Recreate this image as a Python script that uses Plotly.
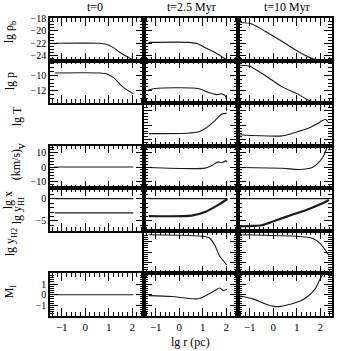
import plotly.graph_objects as go
from plotly.subplots import make_subplots

W, H = 340, 351
ML, MR, MT, MB = 50, 6, 18, 35

# ---------------- data (lg r in pc) ----------------
col_titles = ["t=0", "t=2.5 Myr", "t=10 Myr"]
x_ticks = [-1, 0, 1, 2]

# t = 0
r_t0_rho = [-1.3, 0.6, 0.9, 1.2, 1.45, 1.75, 2.05]
rho_t0 = [-22.0, -22.0, -22.15, -22.7, -23.4, -24.1, -24.7]
r_t0_p = [-1.3, 0.6, 0.9, 1.2, 1.6, 2.05]
p_t0 = [-9.7, -9.7, -9.8, -10.3, -11.5, -12.4]
r_t0_flat = [-1.3, 2.05]
v_t0 = [0.0, 0.0]
yHI_t0 = [0.0, 0.0]
x_t0 = [-3.2, -3.2]
M_t0 = [0.0, 0.0]

# t = 2.5 Myr
r_t25_rho = [-1.3, 0.38, 0.81, 1.09, 1.52, 2.02]
rho_t25 = [-21.85, -21.85, -22.1, -22.7, -23.5, -24.7]
r_t25_p = [-1.3, -1.03, 0.81, 1.23, 1.59, 1.8, 1.97, 2.02]
p_t25 = [-11.9, -11.7, -11.7, -12.2, -12.5, -12.4, -12.7, -13.4]
r_t25_T = [-1.3, 0.3, 0.81, 1.09, 1.52, 1.8, 2.02]
T_t25 = [2.42, 2.45, 2.53, 2.75, 3.31, 3.75, 3.8]
r_t25_v = [-1.3, 1.09, 1.4, 1.66, 1.8, 1.97, 2.05]
v_t25 = [-0.35, -0.8, 1.2, 3.6, 3.0, 4.3, 3.8]
r_t25_flat = [-1.3, 2.05]
yHI_t25 = [0.0, 0.0]
r_t25_x = [-1.3, 0.53, 1.09, 1.66, 2.05]
x_t25 = [-3.9, -3.8, -3.0, -1.4, -0.1]
r_t25_H2 = [-1.3, 1.09, 1.3, 1.52, 1.72, 2.02]
H2_t25 = [-2.37, -2.53, -2.7, -3.37, -4.37, -5.2]
r_t25_M = [-1.3, -0.33, 0.81, 1.37, 1.72, 1.87, 2.02]
M_t25 = [-0.09, -0.17, -0.38, 0.2, 0.63, 0.4, 0.5]

# t = 10 Myr
r_t10_rho = [-1.45, -0.89, -0.33, 0.38, 1.09, 1.66, 1.97, 2.37]
rho_t10 = [-18.6, -18.9, -20.1, -21.7, -23.4, -24.45, -24.75, -24.75]
r_t10_p = [-1.45, -1.03, -0.33, 0.38, 1.09, 1.52, 1.94, 2.37]
p_t10 = [-8.7, -8.8, -10.05, -11.5, -12.5, -13.25, -13.55, -13.55]
r_t10_T = [-1.45, 0.38, 1.09, 1.52, 1.87, 2.09, 2.23, 2.37]
T_t10 = [2.35, 2.27, 2.58, 2.8, 3.09, 3.31, 3.38, 3.13]
r_t10_v = [-1.45, 0.4, 1.09, 1.66, 1.97, 2.16, 2.3, 2.37]
v_t10 = [-0.35, -0.9, -1.75, -0.35, 3.8, 8.5, 14.3, 16.6]
r_t10_flat = [-1.45, 2.37]
yHI_t10 = [0.0, 0.0]
r_t10_x = [-1.45, -0.9, -0.5, 0.1, 0.8, 1.38, 1.9, 2.37]
x_t10 = [-6.2, -6.1, -5.95, -4.9, -3.6, -2.6, -1.5, -0.3]
r_t10_H2 = [-1.45, 1.09, 1.66, 2.0, 2.37]
H2_t10 = [-2.37, -2.53, -2.7, -3.2, -4.3]
r_t10_M = [-1.45, -0.89, -0.3, 0.03, 0.3, 1.16, 1.5, 1.8, 2.0, 2.15]
M_t10 = [-0.09, -0.37, -0.9, -1.1, -1.1, -0.6, -0.1, 0.6, 1.5, 2.1]

# row axis settings: range, tickvals, minor dtick
row_ranges = [[-24.8, -17.9], [-13.6, -8.1], [1.6, 4.5], [-15, 15],
              [-7.2, 2.3], [-6.0, -2.0], [-2.0, 2.0]]
row_ticks = [[-18, -20, -22, -24], [-10, -12], [2, 3, 4], [-10, 0, 10],
             [-5, 0], [-5, -4, -3], [-1, 0, 1]]
row_minor = [0.5, 0.5, 0.2, 2, 1, 0.2, 0.2]

# ---------------- figure ----------------
fig = make_subplots(rows=7, cols=3, horizontal_spacing=0, vertical_spacing=0)

LC = "#1a1a1a"
FONT = "Liberation Serif"


def add(r, c, xs, ys, w=1.1):
    fig.add_trace(go.Scatter(x=xs, y=ys, mode="lines",
                             line=dict(color=LC, width=w, shape="spline", smoothing=0.7),
                             showlegend=False, hoverinfo="skip"), row=r, col=c)


# column 1
add(1, 1, r_t0_rho, rho_t0)
add(2, 1, r_t0_p, p_t0)
add(4, 1, r_t0_flat, v_t0)
add(5, 1, r_t0_flat, yHI_t0, 1.3)
add(5, 1, r_t0_flat, x_t0, 1.3)
add(7, 1, r_t0_flat, M_t0)
# column 2
add(1, 2, r_t25_rho, rho_t25)
add(2, 2, r_t25_p, p_t25)
add(3, 2, r_t25_T, T_t25)
add(4, 2, r_t25_v, v_t25)
add(5, 2, r_t25_flat, yHI_t25)
add(5, 2, r_t25_x, x_t25, 2.2)
add(6, 2, r_t25_H2, H2_t25)
add(7, 2, r_t25_M, M_t25)
# column 3
add(1, 3, r_t10_rho, rho_t10)
add(2, 3, r_t10_p, p_t10)
add(3, 3, r_t10_T, T_t10)
add(4, 3, r_t10_v, v_t10)
add(5, 3, r_t10_flat, yHI_t10)
add(5, 3, r_t10_x, x_t10, 2.2)
add(6, 3, r_t10_H2, H2_t10)
add(7, 3, r_t10_M, M_t10)

for r in range(1, 8):
    for c in range(1, 4):
        fig.update_xaxes(range=[-1.5, 2.5], tickvals=x_ticks, ticks="inside", ticklen=8,
                         tickwidth=1.2, tickcolor="black", mirror="allticks", showline=True,
                         linecolor="black", linewidth=1.5, showgrid=False, zeroline=False,
                         showticklabels=(r == 7),
                         tickfont=dict(size=11, family=FONT),
                         minor=dict(dtick=0.2, tick0=0, ticks="inside", ticklen=4,
                                    tickcolor="black", tickwidth=1.1, showgrid=False),
                         row=r, col=c)
        fig.update_yaxes(range=row_ranges[r - 1], tickvals=row_ticks[r - 1], ticks="inside",
                         ticklen=8, tickwidth=1.2, tickcolor="black", mirror="allticks",
                         showline=True, linecolor="black", linewidth=1.5, showgrid=False,
                         zeroline=False, showticklabels=(c == 1),
                         tickfont=dict(size=10, family=FONT),
                         minor=dict(dtick=row_minor[r - 1], tick0=0, ticks="inside",
                                    ticklen=4, tickcolor="black", tickwidth=1.1, showgrid=False),
                         row=r, col=c)

PW, PH = W - ML - MR, H - MT - MB


def px(x, y):
    return (x - ML) / PW, 1 - (y - MT) / PH


annots = []
ylabels = [("lg ρ<sub>b</sub>", 10, 32), ("lg p", 10, 81), ("lg T", 17, 116),
           ("v", 21, 146), ("(km/s)", 16, 165), ("lg x", 8, 200),
           ("lg y<sub>HI</sub>", 18, 211), ("lg y<sub>H2</sub>", 11, 242),
           ("M<sub>l</sub>", 10, 291)]
for t, x, y in ylabels:
    ax, ay = px(x, y)
    annots.append(dict(text=t, x=ax, y=ay, xref="paper", yref="paper", showarrow=False,
                       textangle=-90, xanchor="center", yanchor="middle",
                       font=dict(size=12, family=FONT, color="black")))
for t, x in zip(col_titles, [95, 192, 289]):
    ax, ay = px(x, 7)
    annots.append(dict(text=t, x=ax, y=ay, xref="paper", yref="paper", showarrow=False,
                       xanchor="center", yanchor="middle",
                       font=dict(size=12, family=FONT, color="black")))
ax, ay = px(191, 342)
annots.append(dict(text="lg r (pc)", x=ax, y=ay, xref="paper", yref="paper",
                   showarrow=False, xanchor="center", yanchor="middle",
                   font=dict(size=12, family=FONT, color="black")))

fig.update_layout(width=W, height=H, margin=dict(l=ML, r=MR, t=MT, b=MB),
                  plot_bgcolor="white", paper_bgcolor="white", annotations=annots,
                  font=dict(family=FONT, size=11, color="black"))

fig.write_html("out.html")
